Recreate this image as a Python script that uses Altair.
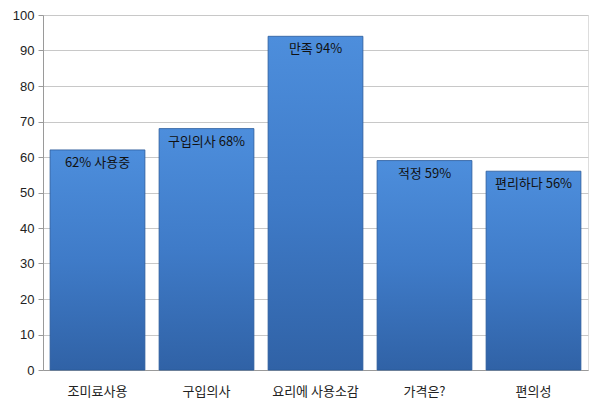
import altair as alt
import pandas as pd

categories = ["조미료사용", "구입의사", "요리에 사용소감", "가격은?", "편의성"]
values = [62, 68, 94, 59, 56]
labels = ["62% 사용중", "구입의사 68%", "만족 94%", "적정 59%", "편리하다 56%"]
ticks = [0, 10, 20, 30, 40, 50, 60, 70, 80, 90, 100]

df = pd.DataFrame({"cat": categories, "val": values, "lab": labels})

FONT = "Noto Sans CJK KR"

grad = alt.Gradient(
    gradient="linear",
    x1=0, x2=0, y1=0, y2=1,
    stops=[
        alt.GradientStop(color="#4d8edc", offset=0),
        alt.GradientStop(color="#3f7bc8", offset=0.5),
        alt.GradientStop(color="#3062a6", offset=1),
    ],
)

x = alt.X(
    "cat:N", sort=categories, title=None,
    scale=alt.Scale(paddingInner=0.13, paddingOuter=0.065),
    axis=alt.Axis(labelAngle=0, ticks=False, labelPadding=15, labelFontSize=13,
                  labelColor="#222222", domainColor="#9a9a9a", labelFont=FONT),
)
y = alt.Y(
    "val:Q", title=None,
    scale=alt.Scale(domain=[0, 100], nice=False),
    axis=alt.Axis(values=ticks, tickCount=12, tickSize=5, tickColor="#9a9a9a",
                  domainColor="#9a9a9a", gridColor="#c8c8c8", labelFontSize=13,
                  labelColor="#222222", labelPadding=4, labelFont="Liberation Sans",
                  labelOverlap=False),
)

base = alt.Chart(df).encode(x=x, y=y)
bars = base.mark_bar(color=grad, stroke="#2a5a9a", strokeWidth=0.8)
text = base.mark_text(dy=13, fontSize=13, color="#111111", font=FONT, baseline="middle").encode(text="lab:N")

chart = (bars + text).properties(
    width=545, height=355,
    autosize=alt.AutoSizeParams(type="none"),
    padding={"left": 35, "top": 7, "right": 4, "bottom": 30},
).configure_view(stroke=None).configure(background="white")

chart.save("out.html", embed_options={"renderer": "svg", "actions": False})
